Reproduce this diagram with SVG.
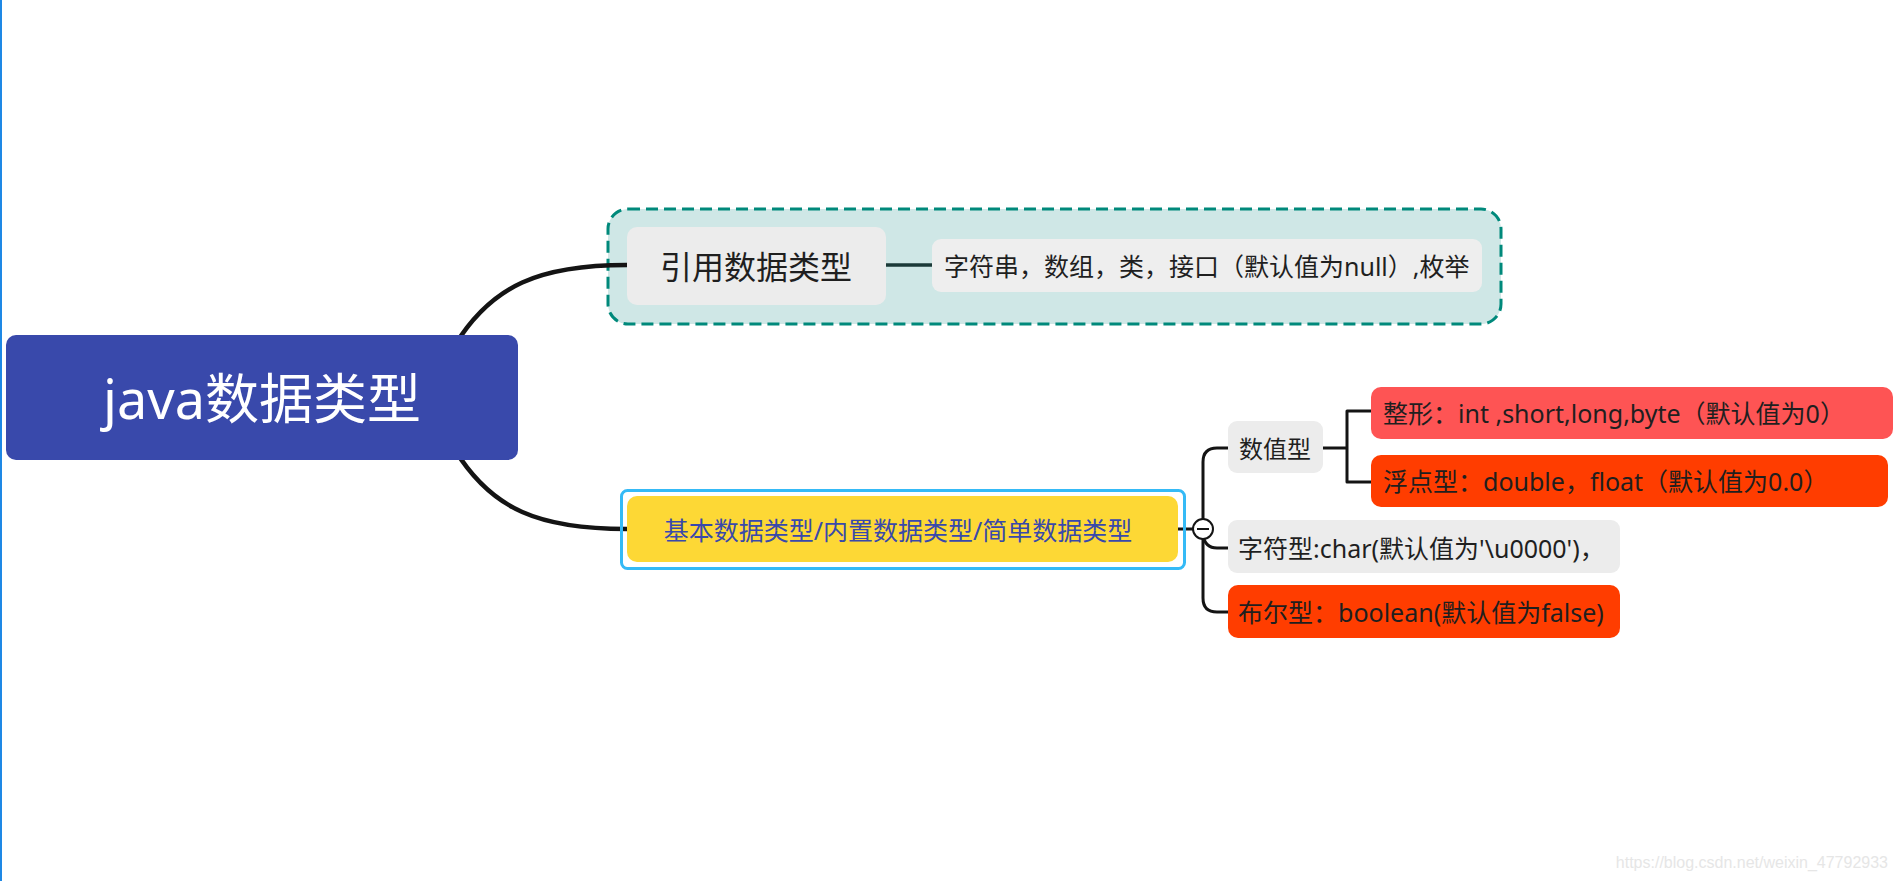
<svg xmlns="http://www.w3.org/2000/svg" width="1903" height="881" viewBox="0 0 1903 881">
<style>
.t{font-family:"Noto Sans","Noto Sans CJK SC",sans-serif;dominant-baseline:central;}
.dark{fill:#1f1f1f;}
.conn{fill:none;stroke:#141414;stroke-linecap:round;}
</style>
<rect x="0" y="0" width="1903" height="881" fill="#ffffff"/>
<rect x="0" y="0" width="2" height="881" fill="#1e88e5"/>
<g id="boundary">
  <rect x="608" y="209" width="893" height="115" rx="20" fill="#cfe7e6" stroke="#00897b" stroke-width="3" stroke-dasharray="12,6"/>
</g>
<g id="connectors">
  <path class="conn" d="M 455,345 C 492,285 540,265 627,265" stroke-width="4.5"/>
  <path class="conn" d="M 455,450 C 492,510 540,529 627,529" stroke-width="4.5"/>
  <path d="M 886,265 H 932" stroke="#1b3a38" stroke-width="3.5" fill="none"/>
  <path class="conn" d="M 1178,529 H 1193" stroke-width="3"/>
  <path class="conn" d="M 1228,448 H 1217 Q 1203,448 1203,462 V 598 Q 1203,612 1217,612 H 1228" stroke-width="3"/>
  <path class="conn" d="M 1203,535 Q 1205,548 1217,548 H 1228" stroke-width="3"/>
  <path class="conn" d="M 1323,448 H 1347 M 1347,411 V 482 M 1347,411 H 1372 M 1347,482 H 1372" stroke-width="3" stroke-linecap="butt"/>
</g>
<g id="root">
  <rect x="6" y="335" width="512" height="125" rx="10" fill="#3949ab"/>
  <text class="t" x="262" y="398" font-size="54" fill="#ffffff" text-anchor="middle">java数据类型</text>
</g>
<g id="ref-type">
  <rect x="627" y="227" width="259" height="78" rx="10" fill="#ececec"/>
  <text class="t dark" x="756" y="266" font-size="32" text-anchor="middle">引用数据类型</text>
</g>
<g id="ref-items">
  <rect x="932" y="239" width="550" height="53" rx="9" fill="#eeeeee"/>
  <text class="t dark" x="944" y="266" font-size="25">字符串，数组，类，接口（默认值为null）,枚举</text>
</g>
<g id="basic-type">
  <rect x="621.5" y="490.5" width="563" height="78" rx="6" fill="none" stroke="#35baf6" stroke-width="3"/>
  <rect x="627" y="496" width="551" height="66" rx="10" fill="#fdd835"/>
  <text class="t" x="898" y="530" font-size="25" fill="#3949ab" text-anchor="middle">基本数据类型/内置数据类型/简单数据类型</text>
</g>
<g id="collapse">
  <circle cx="1203" cy="529" r="10" fill="#ffffff" stroke="#141414" stroke-width="2"/>
  <path d="M 1197,529 H 1209" stroke="#141414" stroke-width="2"/>
</g>
<g id="numeric">
  <rect x="1228" y="421" width="95" height="52" rx="9" fill="#ececec"/>
  <text class="t dark" x="1239" y="448" font-size="24">数值型</text>
</g>
<g id="integer">
  <rect x="1371" y="387" width="522" height="52" rx="10" fill="#fe5454"/>
  <text class="t dark" x="1383" y="413" font-size="25">整形：int ,short,long,byte（默认值为0）</text>
</g>
<g id="float">
  <rect x="1371" y="455" width="517" height="52" rx="10" fill="#ff3d00"/>
  <text class="t dark" x="1383" y="481" font-size="25">浮点型：double，float（默认值为0.0）</text>
</g>
<g id="char">
  <rect x="1228" y="520" width="392" height="53" rx="9" fill="#ececec"/>
  <text class="t dark" x="1238" y="548" font-size="25">字符型:char(默认值为'\u0000')，</text>
</g>
<g id="boolean">
  <rect x="1228" y="585" width="392" height="53" rx="10" fill="#ff3d00"/>
  <text class="t dark" x="1238" y="612" font-size="25">布尔型：boolean(默认值为false)</text>
</g>
<text x="1888" y="868" font-family="Liberation Sans, Arial, sans-serif" font-size="16" fill="#e6e6e6" text-anchor="end">https://blog.csdn.net/weixin_47792933</text>
</svg>
